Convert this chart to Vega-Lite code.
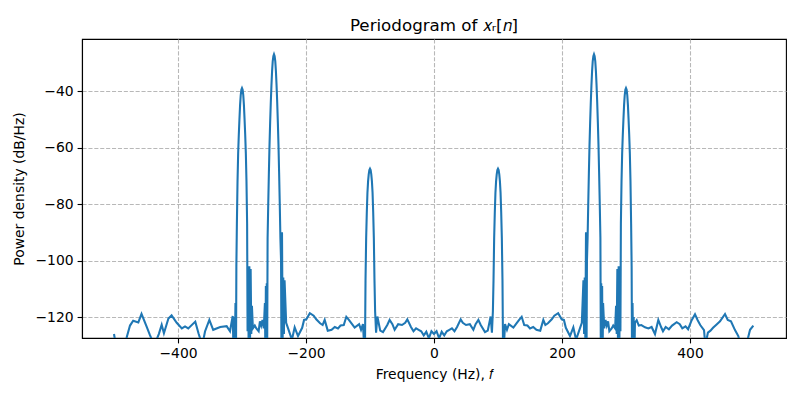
{
  "$schema": "https://vega.github.io/schema/vega-lite/v6.json",
  "width": 704,
  "height": 299,
  "autosize": {"type": "none"},
  "padding": {"left": 82, "top": 39, "right": 14, "bottom": 62},
  "background": "white",
  "title": {"text": "Periodogram of 𝑥ᵣ[𝑛]", "font": "DejaVu Sans", "fontSize": 16.7, "fontWeight": "normal", "color": "black", "offset": 4},
  "config": {
    "view": {"stroke": "black", "strokeWidth": 1.1},
    "axis": {
      "domainColor": "black", "domainWidth": 1.1,
      "tickColor": "black", "tickSize": 4.9, "tickWidth": 1.1,
      "labelFont": "DejaVu Sans", "labelFontSize": 13.9, "labelColor": "black", "labelPadding": 4,
      "titleFont": "DejaVu Sans", "titleFontSize": 13.9, "titleFontWeight": "normal", "titleColor": "black",
      "gridColor": "#b8b8b8", "gridDash": [4.1, 1.8], "gridWidth": 1.1, "gridOpacity": 1
    }
  },
  "data": {"values": [
    {"f": -500, "p": -126}, {"f": -497, "p": -130}, {"f": -482, "p": -130}, {"f": -480, "p": -127}, {"f": -475, "p": -123}, {"f": -470, "p": -121.3}, {"f": -462, "p": -121.9}, {"f": -457, "p": -118.9}, {"f": -449, "p": -123.4}, {"f": -444, "p": -126.3}, {"f": -437, "p": -130}, {"f": -430, "p": -126}, {"f": -425.5, "p": -122.7}, {"f": -422, "p": -125.7}, {"f": -415, "p": -120.5}, {"f": -410, "p": -119.4}, {"f": -402, "p": -122}, {"f": -394, "p": -124}, {"f": -389, "p": -123.3}, {"f": -384, "p": -124}, {"f": -373, "p": -121.6}, {"f": -368, "p": -125.7}, {"f": -362, "p": -130}, {"f": -357.8, "p": -125.1}, {"f": -351, "p": -121}, {"f": -345, "p": -124.5}, {"f": -334, "p": -123.5}, {"f": -324, "p": -123.2}, {"f": -318.75, "p": -125}, {"f": -314.5, "p": -119.6},
    {"f": -313, "p": -135}, {"f": -312, "p": -120}, {"f": -311, "p": -128}, {"f": -310.2, "p": -115}, {"f": -309.4, "p": -135}, {"f": -308.8, "p": -102}, {"f": -308, "p": -87}, {"f": -307, "p": -72}, {"f": -306, "p": -62}, {"f": -305, "p": -55.5}, {"f": -304, "p": -50}, {"f": -303, "p": -45}, {"f": -302, "p": -41.5}, {"f": -301, "p": -39.6}, {"f": -300, "p": -39}, {"f": -299, "p": -39.6}, {"f": -298, "p": -41.5}, {"f": -297, "p": -45}, {"f": -296, "p": -50}, {"f": -295, "p": -55.5}, {"f": -294, "p": -62}, {"f": -293, "p": -72}, {"f": -292, "p": -87}, {"f": -291.3, "p": -125}, {"f": -290.5, "p": -102}, {"f": -289.5, "p": -135}, {"f": -288.5, "p": -102}, {"f": -287.5, "p": -130}, {"f": -286.5, "p": -103}, {"f": -285.5, "p": -126}, {"f": -284.5, "p": -116}, {"f": -283, "p": -124}, {"f": -280, "p": -123}, {"f": -277.6, "p": -124}, {"f": -274, "p": -125}, {"f": -272, "p": -121.5}, {"f": -270, "p": -123}, {"f": -268, "p": -121}, {"f": -266, "p": -124}, {"f": -265, "p": -119}, {"f": -264.2, "p": -115}, {"f": -263.4, "p": -135}, {"f": -262.7, "p": -109}, {"f": -262, "p": -128}, {"f": -261.3, "p": -108}, {"f": -260.7, "p": -135}, {"f": -260, "p": -92}, {"f": -259, "p": -80}, {"f": -258, "p": -69}, {"f": -257, "p": -59}, {"f": -256, "p": -51}, {"f": -255, "p": -44}, {"f": -254, "p": -38}, {"f": -253, "p": -33}, {"f": -252, "p": -29.5}, {"f": -251, "p": -27.7}, {"f": -250, "p": -27}, {"f": -249, "p": -27.7}, {"f": -248, "p": -29.5}, {"f": -247, "p": -33}, {"f": -246, "p": -38}, {"f": -245, "p": -44}, {"f": -244, "p": -51}, {"f": -243, "p": -59}, {"f": -242, "p": -69}, {"f": -241, "p": -80}, {"f": -240, "p": -92}, {"f": -239, "p": -100}, {"f": -238.3, "p": -135}, {"f": -237.5, "p": -90}, {"f": -236.5, "p": -128}, {"f": -235.5, "p": -106}, {"f": -234.5, "p": -126}, {"f": -233.5, "p": -107}, {"f": -231, "p": -122}, {"f": -228, "p": -124}, {"f": -222, "p": -128}, {"f": -217.7, "p": -123.6}, {"f": -212.5, "p": -126.7}, {"f": -206, "p": -123.8}, {"f": -203, "p": -121}, {"f": -199.5, "p": -120.8}, {"f": -194, "p": -118.6}, {"f": -188, "p": -119.5}, {"f": -184, "p": -120.8}, {"f": -178, "p": -122.2}, {"f": -174, "p": -122.8}, {"f": -170.8, "p": -121}, {"f": -166, "p": -124.8}, {"f": -160, "p": -124.5}, {"f": -155, "p": -123.5}, {"f": -150, "p": -124}, {"f": -146, "p": -123}, {"f": -141, "p": -122.8}, {"f": -137, "p": -119.9}, {"f": -133, "p": -121}, {"f": -128, "p": -122.5}, {"f": -124, "p": -123.7}, {"f": -117, "p": -122.5}, {"f": -114, "p": -124.5}, {"f": -111, "p": -122.5}, {"f": -108, "p": -135}, {"f": -107, "p": -107}, {"f": -106, "p": -92}, {"f": -105, "p": -83}, {"f": -104, "p": -76}, {"f": -103, "p": -72}, {"f": -102, "p": -69.5}, {"f": -101, "p": -68}, {"f": -100, "p": -67.5}, {"f": -99, "p": -68}, {"f": -98, "p": -69.5}, {"f": -97, "p": -72}, {"f": -96, "p": -76}, {"f": -95, "p": -83}, {"f": -94, "p": -92}, {"f": -93, "p": -107}, {"f": -92, "p": -118}, {"f": -90.5, "p": -125.5}, {"f": -88.5, "p": -119.8}, {"f": -84, "p": -124.8}, {"f": -79.7, "p": -125.3}, {"f": -73, "p": -122.8}, {"f": -69.3, "p": -121}, {"f": -65, "p": -122.5}, {"f": -61.5, "p": -124.5}, {"f": -56, "p": -122.5}, {"f": -50, "p": -122.8}, {"f": -45, "p": -122}, {"f": -41.7, "p": -120.8}, {"f": -36, "p": -123.5}, {"f": -32, "p": -125}, {"f": -28, "p": -124}, {"f": -24, "p": -124.5}, {"f": -20, "p": -125}, {"f": -16, "p": -126.5}, {"f": -12, "p": -125.2}, {"f": -8, "p": -127.5}, {"f": -4, "p": -125},
    {"f": 0, "p": -126},
    {"f": 4, "p": -125}, {"f": 8, "p": -127.5}, {"f": 12, "p": -125.2}, {"f": 16, "p": -126.5}, {"f": 20, "p": -125}, {"f": 24, "p": -124.5}, {"f": 28, "p": -124}, {"f": 32, "p": -125}, {"f": 36, "p": -123.5}, {"f": 41.7, "p": -120.8}, {"f": 45, "p": -122}, {"f": 50, "p": -122.8}, {"f": 56, "p": -122.5}, {"f": 61.5, "p": -124.5}, {"f": 65, "p": -122.5}, {"f": 69.3, "p": -121}, {"f": 73, "p": -122.8}, {"f": 79.7, "p": -125.3}, {"f": 84, "p": -124.8}, {"f": 88.5, "p": -119.8}, {"f": 90.5, "p": -125.5}, {"f": 92, "p": -118}, {"f": 93, "p": -107}, {"f": 94, "p": -92}, {"f": 95, "p": -83}, {"f": 96, "p": -76}, {"f": 97, "p": -72}, {"f": 98, "p": -69.5}, {"f": 99, "p": -68}, {"f": 100, "p": -67.5}, {"f": 101, "p": -68}, {"f": 102, "p": -69.5}, {"f": 103, "p": -72}, {"f": 104, "p": -76}, {"f": 105, "p": -83}, {"f": 106, "p": -92}, {"f": 107, "p": -107}, {"f": 108, "p": -135}, {"f": 111, "p": -122.5}, {"f": 114, "p": -124.5}, {"f": 117, "p": -122.5}, {"f": 124, "p": -123.7}, {"f": 128, "p": -122.5}, {"f": 133, "p": -121}, {"f": 137, "p": -119.9}, {"f": 141, "p": -122.8}, {"f": 146, "p": -123}, {"f": 150, "p": -124}, {"f": 155, "p": -123.5}, {"f": 160, "p": -124.5}, {"f": 166, "p": -124.8}, {"f": 170.8, "p": -121}, {"f": 174, "p": -122.8}, {"f": 178, "p": -122.2}, {"f": 184, "p": -120.8}, {"f": 188, "p": -119.5}, {"f": 194, "p": -118.6}, {"f": 199.5, "p": -120.8}, {"f": 203, "p": -121}, {"f": 206, "p": -123.8}, {"f": 212.5, "p": -126.7}, {"f": 217.7, "p": -123.6}, {"f": 222, "p": -128}, {"f": 228, "p": -124}, {"f": 231, "p": -122}, {"f": 233.5, "p": -107}, {"f": 234.5, "p": -126}, {"f": 235.5, "p": -106}, {"f": 236.5, "p": -128}, {"f": 237.5, "p": -90}, {"f": 238.3, "p": -135}, {"f": 239, "p": -100}, {"f": 240, "p": -92}, {"f": 241, "p": -80}, {"f": 242, "p": -69}, {"f": 243, "p": -59}, {"f": 244, "p": -51}, {"f": 245, "p": -44}, {"f": 246, "p": -38}, {"f": 247, "p": -33}, {"f": 248, "p": -29.5}, {"f": 249, "p": -27.7}, {"f": 250, "p": -27}, {"f": 251, "p": -27.7}, {"f": 252, "p": -29.5}, {"f": 253, "p": -33}, {"f": 254, "p": -38}, {"f": 255, "p": -44}, {"f": 256, "p": -51}, {"f": 257, "p": -59}, {"f": 258, "p": -69}, {"f": 259, "p": -80}, {"f": 260, "p": -92}, {"f": 260.7, "p": -135}, {"f": 261.3, "p": -108}, {"f": 262, "p": -128}, {"f": 262.7, "p": -109}, {"f": 263.4, "p": -135}, {"f": 264.2, "p": -115}, {"f": 265, "p": -119}, {"f": 266, "p": -124}, {"f": 268, "p": -121}, {"f": 270, "p": -123}, {"f": 272, "p": -121.5}, {"f": 274, "p": -125}, {"f": 277.6, "p": -124}, {"f": 280, "p": -123}, {"f": 283, "p": -124}, {"f": 284.5, "p": -116}, {"f": 285.5, "p": -126}, {"f": 286.5, "p": -103}, {"f": 287.5, "p": -130}, {"f": 288.5, "p": -102}, {"f": 289.5, "p": -135}, {"f": 290.5, "p": -102}, {"f": 291.3, "p": -125}, {"f": 292, "p": -87}, {"f": 293, "p": -72}, {"f": 294, "p": -62}, {"f": 295, "p": -55.5}, {"f": 296, "p": -50}, {"f": 297, "p": -45}, {"f": 298, "p": -41.5}, {"f": 299, "p": -39.6}, {"f": 300, "p": -39}, {"f": 301, "p": -39.6}, {"f": 302, "p": -41.5}, {"f": 303, "p": -45}, {"f": 304, "p": -50}, {"f": 305, "p": -55.5}, {"f": 306, "p": -62}, {"f": 307, "p": -72}, {"f": 308, "p": -87}, {"f": 308.8, "p": -102}, {"f": 309.4, "p": -135}, {"f": 310.2, "p": -115}, {"f": 311, "p": -128}, {"f": 312, "p": -120}, {"f": 313, "p": -135}, {"f": 314, "p": -122}, {"f": 316.7, "p": -121.1}, {"f": 320, "p": -123}, {"f": 324, "p": -122.8}, {"f": 329.7, "p": -123.6}, {"f": 335, "p": -124}, {"f": 340, "p": -123.5}, {"f": 345.3, "p": -126}, {"f": 350.5, "p": -121}, {"f": 355, "p": -123.6}, {"f": 357.8, "p": -125}, {"f": 362, "p": -123.5}, {"f": 367, "p": -124.3}, {"f": 372, "p": -123}, {"f": 379.2, "p": -121.8}, {"f": 384, "p": -122.5}, {"f": 388, "p": -124}, {"f": 393, "p": -123.3}, {"f": 397, "p": -124.3}, {"f": 402.6, "p": -121.1}, {"f": 407.8, "p": -119}, {"f": 412, "p": -121.1}, {"f": 416, "p": -122.8}, {"f": 421.9, "p": -124.6}, {"f": 424, "p": -130}, {"f": 428, "p": -125.5}, {"f": 432, "p": -124.8}, {"f": 436, "p": -123.8}, {"f": 442, "p": -122.5}, {"f": 446.9, "p": -121.5}, {"f": 454.7, "p": -118.9}, {"f": 459, "p": -121}, {"f": 464, "p": -121.5}, {"f": 470.3, "p": -124.6}, {"f": 475.5, "p": -126.7}, {"f": 479, "p": -130}, {"f": 485, "p": -130}, {"f": 490, "p": -128}, {"f": 493.8, "p": -124.5}, {"f": 499, "p": -123}
  ]},
  "mark": {"type": "line", "color": "#1f77b4", "strokeWidth": 2.08, "clip": true},
  "encoding": {
    "x": {"field": "f", "type": "quantitative", "scale": {"domain": [-550, 550], "nice": false, "zero": false}, "axis": {"values": [-400, -200, 0, 200, 400], "title": "Frequency (Hz), 𝑓", "titlePadding": 7}},
    "y": {"field": "p", "type": "quantitative", "scale": {"domain": [-127.4, -21.6], "nice": false, "zero": false}, "axis": {"values": [-120, -100, -80, -60, -40], "title": "Power density (dB/Hz)", "titlePadding": 8}}
  }
}
